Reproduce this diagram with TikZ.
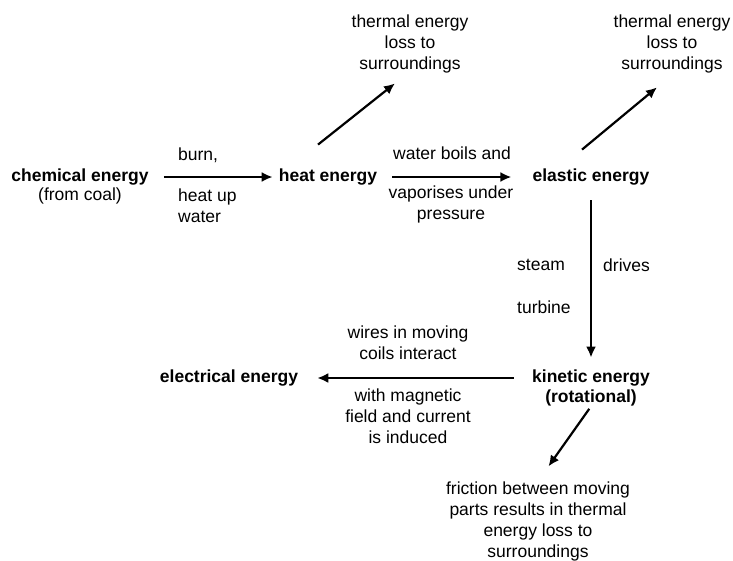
\documentclass[tikz,border=0pt]{standalone}
\usepackage{fontspec}
\setmainfont{Liberation Sans}
\usetikzlibrary{arrows.meta}

\begin{document}
\begin{tikzpicture}[x=1pt,y=-1pt,
  every node/.style={inner sep=0pt,font=\fontsize{17.5}{21}\selectfont},
  energy/.style={font=\fontsize{17.5}{21}\selectfont\bfseries},
  note/.style={align=center},
  flow/.style={line width=2.2pt,-{Latex[length=11pt,width=10pt]}}]
\useasboundingbox (0,0) rectangle (733,560);

\node[energy] (chem) at (80,177) {chemical energy};
\node (coal) at (80,196) {(from coal)};
\node[energy] (heat) at (328,177) {heat energy};
\node[energy] (elastic) at (591,177) {elastic energy};
\node[energy] (kinetic) at (591,378) {kinetic energy};
\node[energy] (rot) at (591,398) {(rotational)};
\node[energy] (electrical) at (229,378) {electrical energy};

\node[note] (th1) at (410,44) {thermal energy\\loss to\\surroundings};
\node[note] (th2) at (672,44) {thermal energy\\loss to\\surroundings};
\node[note] (friction) at (538,521) {friction between moving\\parts results in thermal\\energy loss to\\surroundings};

\node[anchor=west] (burn) at (178,155) {burn,};
\node[anchor=west,align=left] (heatup) at (178,205.5) {heat up\\water};
\node (boils) at (452,153) {water boils and};
\node[note] (vapour) at (451,204) {vaporises under\\pressure};
\node[anchor=west] (steam) at (517,265) {steam};
\node[anchor=west] (turbine) at (517,307) {turbine};
\node[anchor=west] (drives) at (603,265) {drives};
\node[note] (wires) at (408,343) {wires in moving\\coils interact};
\node[note] (magnetic) at (408,416) {with magnetic\\field and current\\is induced};

\draw[flow,shorten <=15pt,shorten >=6pt] (chem.east) -- (heat.west);
\draw[flow,shorten <=15pt,shorten >=21pt] (heat.east) -- (elastic.west);
\draw[flow] ([xshift=-10pt,yshift=24pt]heat.north) -- ([xshift=-15pt,yshift=-10pt]th1.south);
\draw[flow] ([xshift=-9pt,yshift=19pt]elastic.north) -- ([xshift=-15pt,yshift=-14pt]th2.south);
\draw[flow,shorten <=15pt,shorten >=12pt] (elastic) -- (kinetic);
\draw[flow,shorten <=18pt,shorten >=19pt] (kinetic.west) -- (electrical.east);
\draw[flow,shorten <=3pt,shorten >=18pt] (rot.south) -- (friction.north);
\end{tikzpicture}
\end{document}
